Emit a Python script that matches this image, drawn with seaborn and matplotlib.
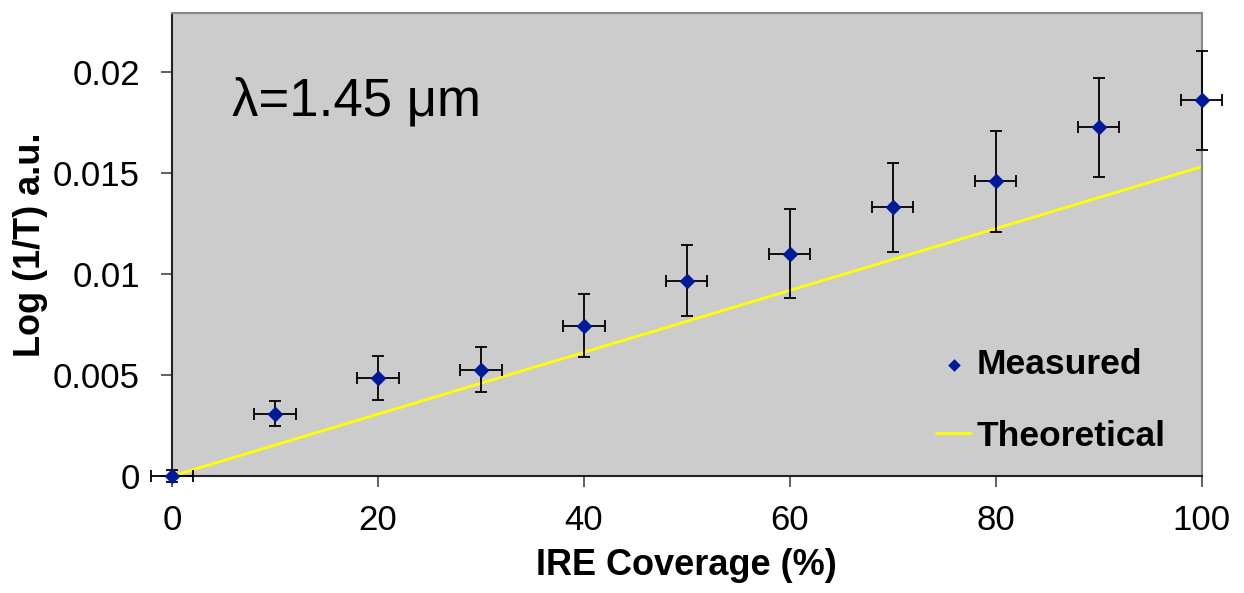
import numpy as np
import pandas as pd
import seaborn as sns
import matplotlib
matplotlib.use('Agg')
import matplotlib.pyplot as plt

# values
coverage = [0, 10, 20, 30, 40, 50, 60, 70, 80, 90, 100]
measured = [0.0, 0.00308, 0.00486, 0.00526, 0.00744, 0.00967, 0.01099, 0.0133, 0.01459, 0.01724, 0.01858]
y_err = [0.0003, 0.00063, 0.0011, 0.0011, 0.00155, 0.00175, 0.0022, 0.0022, 0.0025, 0.00246, 0.00246]
x_err = [2] * len(coverage)
theo_x = [0, 100]
theo_y = [0.0, 0.0153]

sns.set_style('ticks', {'axes.facecolor': '#CCCCCC'})
plt.rcParams['font.family'] = ['Liberation Sans', 'DejaVu Sans']
plt.rcParams['text.color'] = 'black'
plt.rcParams['axes.labelcolor'] = 'black'
plt.rcParams['xtick.labelcolor'] = 'black'
plt.rcParams['ytick.labelcolor'] = 'black'

fig = plt.figure(figsize=(12.44, 5.93), dpi=100)
ax = fig.add_axes([0.1383, 0.1973, 0.8277, 0.7807])

df_meas = pd.DataFrame({'x': coverage, 'y': measured})
df_theo = pd.DataFrame({'x': theo_x, 'y': theo_y})

sns.lineplot(data=df_theo, x='x', y='y', color='#FFFF00', lw=2, ax=ax,
             label='Theoretical', zorder=2)
ax.errorbar(coverage, measured, yerr=y_err, xerr=x_err, fmt='none',
            ecolor='black', elinewidth=1.3, capsize=4.5, capthick=1.3,
            zorder=3, clip_on=False)
sns.scatterplot(data=df_meas, x='x', y='y', marker='D', s=65, color='#001A99',
                edgecolor='#001A99', linewidth=0, ax=ax, label='Measured',
                zorder=4, clip_on=False)

ax.set_xlim(0, 100)
ax.set_ylim(0, 0.0229)
ax.set_xticks([0, 20, 40, 60, 80, 100])
ax.set_yticks([0, 0.005, 0.01, 0.015, 0.02])
ax.set_yticklabels(['0', '0.005', '0.01', '0.015', '0.02'])
ax.tick_params(labelsize=25, length=8, width=1.2, color='#444444')
ax.tick_params(axis='y', pad=15)
ax.tick_params(axis='x', pad=12)

for side in ['left', 'bottom']:
    ax.spines[side].set_color('#222222')
    ax.spines[side].set_linewidth(1.5)
for side in ['top', 'right']:
    ax.spines[side].set_visible(True)
    ax.spines[side].set_color('#888888')
    ax.spines[side].set_linewidth(1.5)

ax.set_xlabel('IRE Coverage (%)', fontsize=26, fontweight='bold', labelpad=8)
ax.set_ylabel('Log (1/T) a.u.', fontsize=26, fontweight='bold', labelpad=4)

ax.text(0.058, 0.81, 'λ=1.45 μm', transform=ax.transAxes, fontsize=38,
        ha='left', va='center')

handles, labels = ax.get_legend_handles_labels()
order = [labels.index('Measured'), labels.index('Theoretical')]
leg = ax.legend([handles[i] for i in order], [labels[i] for i in order],
                loc='upper left', bbox_to_anchor=(0.711, 0.345), frameon=False,
                prop={'size': 25.5, 'weight': 'bold'}, handlelength=1.0,
                handletextpad=0.15, labelspacing=1.09, markerscale=0.8)

plt.savefig('out.png', dpi=100)
